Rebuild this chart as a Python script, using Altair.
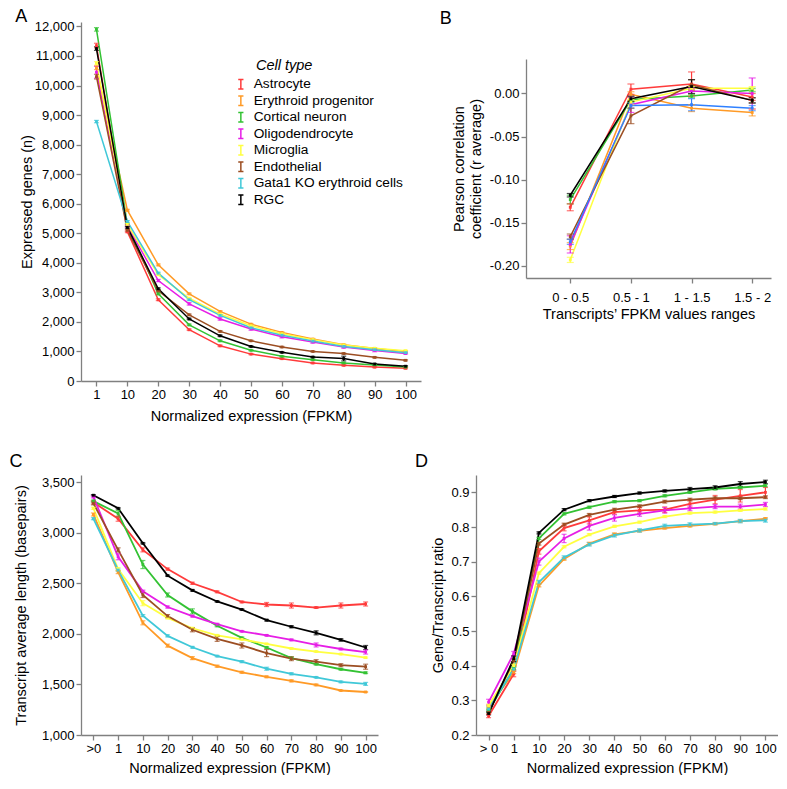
import altair as alt
import pandas as pd

cells = ["Astrocyte", "Erythroid progenitor", "Cortical neuron", "Oligodendrocyte",
         "Microglia", "Endothelial", "Gata1 KO erythroid cells", "RGC"]
colors = ["#FF3B3B", "#FF9A26", "#33C233", "#E61EE6", "#FFFF40", "#9C4E22", "#40C8D8", "#000000"]
colors_b = ["#FF3B3B", "#FF9A26", "#33C233", "#E61EE6", "#FFFF40", "#9C4E22", "#2F80FF", "#000000"]

# ---- Panel A: expressed genes
A_cats = ["1", "10", "20", "30", "40", "50", "60", "70", "80", "90", "100"]
A_astro = [11350, 5050, 2750, 1735, 1190, 910, 755, 610, 530, 470, 430]
A_eryth = [10600, 5780, 3930, 2950, 2355, 1925, 1645, 1420, 1230, 1100, 1000]
A_cort = [11900, 5300, 2950, 1900, 1360, 1040, 835, 720, 610, 545, 470]
A_oligo = [10450, 5250, 3400, 2610, 2100, 1760, 1500, 1320, 1150, 1030, 930]
A_micro = [10750, 5300, 3600, 2800, 2265, 1870, 1600, 1400, 1220, 1110, 1025]
A_endo = [10300, 5100, 3050, 2240, 1680, 1360, 1150, 1000, 930, 800, 700]
A_gata = [8780, 5400, 3650, 2750, 2220, 1800, 1550, 1350, 1170, 1060, 960]
A_rgc = [11250, 5200, 3120, 2100, 1530, 1170, 970, 810, 760, 575, 500]
A_err_astro = [80, 30, 30, 25, 25, 20, 20, 20, 20, 20, 20]
A_err_eryth = [60, 30, 30, 25, 25, 20, 20, 20, 20, 20, 20]
A_err_cort = [60, 30, 30, 25, 25, 20, 20, 20, 20, 20, 20]
A_err_oligo = [200, 40, 40, 40, 40, 40, 40, 40, 40, 40, 20]
A_err_micro = [60, 30, 30, 25, 25, 20, 20, 20, 20, 20, 20]
A_err_endo = [80, 30, 30, 25, 25, 20, 20, 20, 20, 20, 20]
A_err_gata = [40, 30, 30, 25, 25, 20, 20, 20, 20, 20, 20]
A_err_rgc = [60, 30, 30, 25, 25, 20, 20, 20, 80, 20, 20]

# ---- Panel B: Pearson correlation
B_cats = ["0 - 0.5", "0.5 - 1", "1 - 1.5", "1.5 - 2"]
B_astro = [-0.132, 0.005, 0.011, -0.004]
B_eryth = [-0.177, -0.001, -0.017, -0.022]
B_cort = [-0.123, -0.007, -0.003, 0.004]
B_oligo = [-0.175, -0.013, 0.003, 0.000]
B_micro = [-0.193, -0.010, 0.006, 0.006]
B_endo = [-0.166, -0.026, 0.010, -0.008]
B_gata = [-0.172, -0.014, -0.013, -0.017]
B_rgc = [-0.118, -0.006, 0.008, -0.008]
B_err_astro = [0.004, 0.006, 0.014, 0.004]
B_err_eryth = [0.004, 0.003, 0.004, 0.004]
B_err_cort = [0.005, 0.003, 0.002, 0.002]
B_err_oligo = [0.010, 0.009, 0.003, 0.018]
B_err_micro = [0.003, 0.003, 0.002, 0.002]
B_err_endo = [0.003, 0.009, 0.006, 0.003]
B_err_gata = [0.003, 0.003, 0.007, 0.003]
B_err_rgc = [0.002, 0.003, 0.008, 0.003]

# ---- Panel C: transcript average length
C_cats = [">0", "1", "10", "20", "30", "40", "50", "60", "70", "80", "90", "100"]
C_astro = [3300, 3138, 2830, 2640, 2500, 2415, 2315, 2290, 2280, 2260, 2280, 2295]
C_eryth = [3180, 2610, 2109, 1883, 1760, 1680, 1620, 1575, 1535, 1495, 1440, 1425]
C_cort = [3312, 3190, 2685, 2384, 2222, 2080, 1960, 1865, 1760, 1700, 1650, 1615]
C_oligo = [3354, 2762, 2420, 2265, 2175, 2095, 2025, 1985, 1940, 1890, 1850, 1820]
C_micro = [3241, 2640, 2303, 2158, 2055, 1985, 1945, 1900, 1855, 1825, 1800, 1765]
C_endo = [3290, 2830, 2384, 2175, 2040, 1950, 1885, 1810, 1755, 1725, 1690, 1675]
C_gata = [3138, 2630, 2180, 1980, 1867, 1780, 1725, 1655, 1605, 1570, 1525, 1505]
C_rgc = [3370, 3241, 2895, 2575, 2430, 2320, 2240, 2135, 2070, 2010, 1940, 1865]
C_err_astro = [15, 25, 20, 10, 10, 8, 8, 20, 25, 8, 25, 20]
C_err_eryth = [15, 15, 20, 15, 15, 10, 10, 8, 10, 8, 5, 5]
C_err_cort = [10, 30, 40, 20, 25, 10, 8, 8, 8, 8, 8, 8]
C_err_oligo = [10, 30, 12, 10, 8, 8, 6, 6, 8, 20, 8, 20]
C_err_micro = [10, 15, 25, 10, 8, 8, 6, 6, 6, 6, 6, 6]
C_err_endo = [15, 20, 25, 15, 20, 25, 25, 35, 20, 20, 15, 25]
C_err_gata = [10, 10, 10, 10, 8, 6, 10, 15, 10, 6, 8, 15]
C_err_rgc = [6, 6, 6, 6, 8, 6, 6, 8, 10, 20, 12, 20]

# ---- Panel D: gene/transcript ratio
D_cats = ["> 0", "1", "10", "20", "30", "40", "50", "60", "70", "80", "90", "100"]
D_astro = [0.255, 0.376, 0.730, 0.797, 0.819, 0.843, 0.848, 0.850, 0.867, 0.879, 0.890, 0.900]
D_eryth = [0.280, 0.381, 0.631, 0.708, 0.752, 0.779, 0.789, 0.797, 0.803, 0.809, 0.817, 0.824]
D_cort = [0.270, 0.393, 0.767, 0.838, 0.857, 0.873, 0.876, 0.890, 0.900, 0.910, 0.914, 0.919]
D_oligo = [0.295, 0.435, 0.700, 0.767, 0.803, 0.826, 0.838, 0.848, 0.854, 0.859, 0.859, 0.865]
D_micro = [0.285, 0.400, 0.667, 0.743, 0.778, 0.802, 0.814, 0.830, 0.840, 0.843, 0.848, 0.852]
D_endo = [0.265, 0.415, 0.752, 0.807, 0.835, 0.850, 0.860, 0.873, 0.879, 0.883, 0.883, 0.886]
D_gata = [0.275, 0.390, 0.641, 0.712, 0.750, 0.776, 0.790, 0.803, 0.807, 0.810, 0.817, 0.819]
D_rgc = [0.262, 0.420, 0.783, 0.850, 0.876, 0.888, 0.898, 0.904, 0.909, 0.914, 0.924, 0.930]
D_err_astro = [0.005, 0.008, 0.008, 0.008, 0.010, 0.006, 0.008, 0.008, 0.010, 0.012, 0.018, 0.014]
D_err_eryth = [0.004, 0.004, 0.004, 0.004, 0.004, 0.004, 0.003, 0.003, 0.003, 0.003, 0.003, 0.003]
D_err_cort = [0.004, 0.004, 0.003, 0.003, 0.003, 0.003, 0.003, 0.003, 0.003, 0.003, 0.003, 0.003]
D_err_oligo = [0.008, 0.006, 0.010, 0.012, 0.012, 0.009, 0.007, 0.008, 0.007, 0.006, 0.007, 0.006]
D_err_micro = [0.004, 0.004, 0.003, 0.003, 0.003, 0.003, 0.003, 0.003, 0.003, 0.003, 0.003, 0.003]
D_err_endo = [0.004, 0.004, 0.004, 0.004, 0.004, 0.004, 0.004, 0.004, 0.004, 0.004, 0.004, 0.004]
D_err_gata = [0.005, 0.005, 0.005, 0.005, 0.005, 0.005, 0.005, 0.005, 0.005, 0.003, 0.005, 0.005]
D_err_rgc = [0.004, 0.008, 0.003, 0.003, 0.003, 0.003, 0.003, 0.003, 0.005, 0.005, 0.007, 0.005]

FONT = "Liberation Sans"


def long_df(cats, vals, errs):
    rows = []
    for cell, vs, es in zip(cells, vals, errs):
        for i, (c, v, e) in enumerate(zip(cats, vs, es)):
            rows.append({"cell": cell, "x": c, "xi": i, "v": v, "lo": v - e, "hi": v + e})
    return pd.DataFrame(rows)


dfA = long_df(A_cats, [A_astro, A_eryth, A_cort, A_oligo, A_micro, A_endo, A_gata, A_rgc],
              [A_err_astro, A_err_eryth, A_err_cort, A_err_oligo, A_err_micro, A_err_endo, A_err_gata, A_err_rgc])
dfB = long_df(B_cats, [B_astro, B_eryth, B_cort, B_oligo, B_micro, B_endo, B_gata, B_rgc],
              [B_err_astro, B_err_eryth, B_err_cort, B_err_oligo, B_err_micro, B_err_endo, B_err_gata, B_err_rgc])
dfC = long_df(C_cats, [C_astro, C_eryth, C_cort, C_oligo, C_micro, C_endo, C_gata, C_rgc],
              [C_err_astro, C_err_eryth, C_err_cort, C_err_oligo, C_err_micro, C_err_endo, C_err_gata, C_err_rgc])
dfD = long_df(D_cats, [D_astro, D_eryth, D_cort, D_oligo, D_micro, D_endo, D_gata, D_rgc],
              [D_err_astro, D_err_eryth, D_err_cort, D_err_oligo, D_err_micro, D_err_endo, D_err_gata, D_err_rgc])


def panel(df, xfield, x_scale, x_axis, x_sort, y_scale, y_axis, color_range, legend, letter,
          title_offset, title_dx, width, height, stroke=1.5, cap=6):
    base = alt.Chart(df)

    def X():
        if x_sort is None:
            return alt.X(xfield, scale=x_scale, axis=x_axis)
        return alt.X(xfield, sort=x_sort, scale=x_scale, axis=x_axis)

    def Y(f):
        return alt.Y(f, scale=y_scale, axis=y_axis)

    col_legend = alt.Color("cell:N", scale=alt.Scale(domain=cells, range=color_range), legend=legend)
    col = alt.Color("cell:N", scale=alt.Scale(domain=cells, range=color_range), legend=None)
    line = base.mark_line(strokeWidth=stroke).encode(x=X(), y=Y("v:Q"), color=col_legend)
    rule = base.mark_rule(strokeWidth=1.2).encode(x=X(), y=Y("lo:Q"), y2="hi:Q", color=col)
    tlo = base.mark_tick(orient="horizontal", size=cap, thickness=1.2).encode(x=X(), y=Y("lo:Q"), color=col)
    thi = base.mark_tick(orient="horizontal", size=cap, thickness=1.2).encode(x=X(), y=Y("hi:Q"), color=col)
    pts = base.mark_square(size=8, opacity=1).encode(x=X(), y=Y("v:Q"), color=col)
    return alt.layer(line, rule, tlo, thi, pts).properties(
        width=width, height=height,
        title=alt.TitleParams(letter, anchor="start", frame="bounds", fontSize=18,
                              fontWeight="normal", font=FONT, offset=title_offset, dx=title_dx),
    )


PT = alt.Scale(type="point", padding=0.5)

# Panel A
legA = alt.Legend(
    title="\u2800\u2800Cell type", orient="none", legendX=153, legendY=37,
    titleFontStyle="italic", titleFontWeight="normal", titleFontSize=14.5, titleFont=FONT,
    labelFontSize=13.7, labelFont=FONT, symbolType="M-0.55,-1H0.55M0,-1V1M-0.55,1H0.55",
    symbolSize=90, symbolStrokeWidth=1.5, rowPadding=0.5, titlePadding=4, labelOffset=6,
)
chartA = panel(
    dfA, "x:N", PT, alt.Axis(title="Normalized expression (FPKM)", labelAngle=0, titlePadding=8), A_cats,
    alt.Scale(domain=[0, 12150], nice=False, zero=False),
    alt.Axis(title="Expressed genes (n)", values=list(range(0, 12001, 1000)), format=",.0f", titlePadding=0),
    colors, legA, "A", -6, -4, 340, 359, stroke=1.5, cap=5)

# Panel B (plot box spans the same height as A; the axis only covers its own range)
B_label_expr = "[" + ",".join("'" + c + "'" for c in B_cats) + "][datum.value]"
chartB = panel(
    dfB, "xi:Q", alt.Scale(domain=[-0.73, 3.31], nice=False, zero=False),
    alt.Axis(title="Transcripts\u2019 FPKM values ranges", values=[0, 1, 2, 3],
             labelExpr=B_label_expr, titlePadding=3, labelPadding=8), None,
    alt.Scale(domain=[-0.214, 0.04], nice=False, zero=False, range=[256, 37]),
    alt.Axis(title=["Pearson correlation", "coefficient (r average)"],
             values=[0, -0.05, -0.1, -0.15, -0.2],
             labelExpr="replace(format(datum.value, '.2f'), '\u2212', '-')", titlePadding=6),
    colors_b, None, "B", -6, -12, 245, 256, stroke=1.5, cap=7)

# Panel C
chartC = panel(
    dfC, "x:N", PT, alt.Axis(title="Normalized expression (FPKM)", labelAngle=0, titlePadding=6), C_cats,
    alt.Scale(domain=[1000, 3570], nice=False, zero=False),
    alt.Axis(title="Transcript average length (basepairs)", values=list(range(1000, 3501, 500)),
             format=",.0f", titlePadding=13),
    colors, None, "C", 4, -4, 297, 260, stroke=1.8, cap=5)

# Panel D
chartD = panel(
    dfD, "x:N", PT, alt.Axis(title="Normalized expression (FPKM)", labelAngle=0, titlePadding=6), D_cats,
    alt.Scale(domain=[0.2, 0.95], nice=False, zero=False),
    alt.Axis(title="Gene/Transcript ratio", values=[0.2, 0.3, 0.4, 0.5, 0.6, 0.7, 0.8, 0.9],
             format=".1f", titlePadding=5),
    colors, None, "D", 4, -16, 302, 260, stroke=1.8, cap=5)

row1 = alt.hconcat(chartA, chartB, spacing=18).resolve_scale(color="independent")
row2 = alt.hconcat(chartC, chartD, spacing=36).resolve_scale(color="independent")

chart = alt.vconcat(row1, row2, spacing=30).resolve_scale(color="independent").properties(
    padding={"left": 1, "top": 0, "right": 0, "bottom": 0}
).configure(font=FONT).configure_view(stroke=None).configure_axis(
    labelFont=FONT, titleFont=FONT, labelFontSize=13, titleFontSize=14.5,
    titleFontWeight="normal", labelColor="black", titleColor="black",
    domainColor="#808080", tickColor="#808080", domainWidth=1.3, tickWidth=1.3,
    tickSize=5, grid=False, labelPadding=2,
)

chart.save("out.html", embed_options={"renderer": "svg", "actions": False})
